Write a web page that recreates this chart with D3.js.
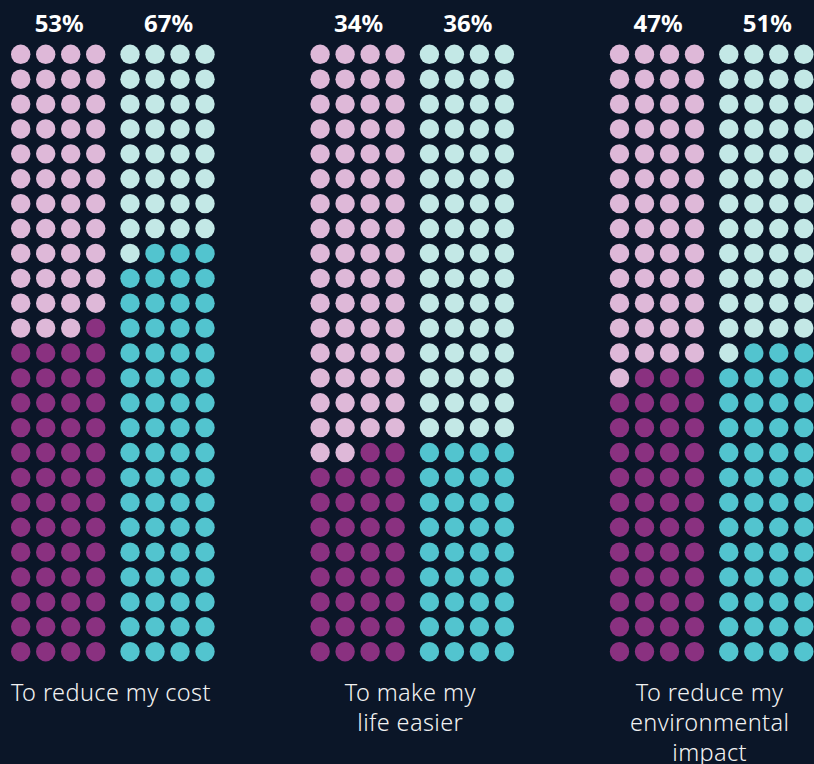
<!DOCTYPE html>
<html>
<head>
<meta charset="utf-8">
<script src="https://cdn.jsdelivr.net/npm/d3@7"></script>
<style>
  body { margin: 0; background: #0b1628; }
  svg { display: block; }
</style>
</head>
<body>
<div class="chart"></div>
<script>
const categories = [
  ['To reduce my cost'],
  ['To make my', 'life easier'],
  ['To reduce my', 'environmental', 'impact']
];
const seriesA = [53, 34, 47];
const seriesB = [67, 36, 51];
const seriesNames = ['A', 'B'];

const colors = {
  A: { on: '#8a3180', off: '#deb8d8' },
  B: { on: '#52c4cf', off: '#c3e8e6' }
};

const width = 814, height = 764;
const svg = d3.select('.chart')
  .append('svg')
  .attr('width', width)
  .attr('height', height);

svg.append('rect')
  .attr('width', width)
  .attr('height', height)
  .attr('fill', '#0b1628');

// group left edge (first dot centre)
const xGroup = d3.scaleLinear().domain([0, 2]).range([20.7, 619.5]);
const xSeries = d3.scaleLinear().domain([0, 1]).range([0, 109.3]);
const xCol = d3.scaleLinear().domain([0, 3]).range([0, 75]);
const yRow = d3.scaleLinear().domain([0, 24]).range([54.3, 651.7]);

let dots = [];
categories.forEach((c, g) => {
  [seriesA[g], seriesB[g]].forEach((v, s) => {
    d3.range(100).forEach(k => {
      // count from bottom-right
      const rowFromBottom = Math.floor(k / 4);
      const colFromRight = k % 4;
      dots.push({
        g: g, s: s,
        row: 24 - rowFromBottom,
        col: 3 - colFromRight,
        on: k < v
      });
    });
  });
});

svg.append('g')
  .selectAll('circle')
  .data(dots)
  .enter()
  .append('circle')
  .attr('cx', d => xGroup(d.g) + xSeries(d.s) + xCol(d.col))
  .attr('cy', d => yRow(d.row))
  .attr('r', 9.7)
  .attr('fill', d => d.on ? colors[seriesNames[d.s]].on : colors[seriesNames[d.s]].off);

// percentage labels
categories.forEach((c, g) => {
  [seriesA[g], seriesB[g]].forEach((v, s) => {
    svg.append('text')
      .attr('x', xGroup(g) + xSeries(s) + xCol(1.5) + 1)
      .attr('y', 32)
      .attr('text-anchor', 'middle')
      .attr('fill', '#ffffff')
      .style('font-family', '"Noto Sans", sans-serif')
      .style('font-weight', 'bold')
      .style('font-size', '24px')
      .text(v + '%');
  });
});

// category labels
categories.forEach((lines, g) => {
  const cx = xGroup(g) + xSeries(0.5) + xCol(1.5) - 2;
  const t = svg.append('text')
    .attr('x', cx)
    .attr('y', 701)
    .attr('text-anchor', 'middle')
    .attr('fill', '#f2f2f2')
    .style('font-family', '"Noto Sans", sans-serif')
    .style('font-weight', 300)
    .style('font-size', '23.5px')
    .style('letter-spacing', '0.4px');
  lines.forEach((l, i) => {
    t.append('tspan')
      .attr('x', cx)
      .attr('dy', i === 0 ? 0 : 30)
      .text(l);
  });
});
</script>
</body>
</html>
